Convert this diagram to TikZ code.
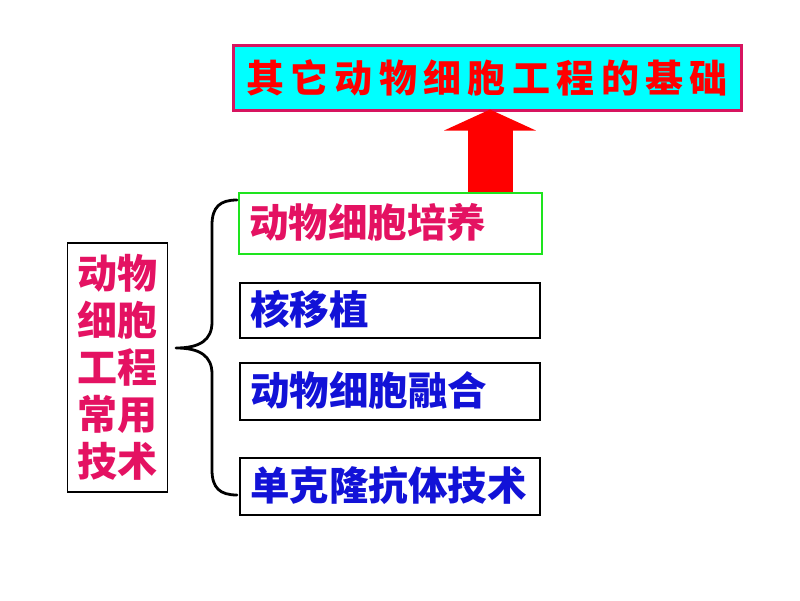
\documentclass[tikz,border=0pt]{standalone}
\usepackage{fontspec}
\usetikzlibrary{arrows.meta}
\newfontfamily\cjk{Noto Sans CJK SC}
\definecolor{pinkT}{RGB}{228,18,98}
\definecolor{blueT}{RGB}{18,18,215}
\definecolor{topborder}{RGB}{215,20,95}
\definecolor{cyanF}{RGB}{0,255,255}
\definecolor{greenB}{RGB}{30,228,30}
\definecolor{redA}{RGB}{255,0,0}
\tikzset{
  itembox/.style={draw=black, line width=1.4pt, minimum width=300pt, text width=280pt,
    inner xsep=10pt, inner ysep=0pt, align=left, font=\cjk\bfseries\fontsize{39.5}{41}\selectfont,
    text=blueT, text height=32pt, text depth=5pt},
  greenbox/.style={itembox, draw=greenB, line width=2.8pt, text=pinkT},
  topbox/.style={draw=topborder, line width=3pt, fill=cyanF, minimum width=508pt, minimum height=65pt,
    font=\cjk\bfseries\fontsize{38}{40}\selectfont, text=redA, inner sep=0pt},
  leftbox/.style={draw=black, line width=1.4pt, minimum width=100pt, minimum height=249pt,
    align=center, text=pinkT, font=\cjk\bfseries\fontsize{40}{47}\selectfont, inner sep=0pt},
  bigarrow/.style={draw=redA, line width=45pt, -{Triangle[width=91pt,length=21pt]}},
  bracestyle/.style={draw=black, line width=2.8pt, line cap=round, line join=round}
}
\begin{document}
\begin{tikzpicture}[x=1pt,y=-1pt]
\useasboundingbox (0,0) rectangle (800,600);
\fill[white] (0,0) rectangle (800,600);
\node[topbox] (top) at (487,77.5) {其\hspace{6.4pt}它\hspace{6.4pt}动\hspace{6.4pt}物\hspace{6.4pt}细\hspace{6.4pt}胞\hspace{6.4pt}工\hspace{6.4pt}程\hspace{6.4pt}的\hspace{6.4pt}基\hspace{6.4pt}础};
\node[leftbox] (left) at (117.5,367.5) {动物\\细胞\\工程\\常用\\技术};
\node[greenbox, minimum width=303pt, text width=283pt, minimum height=61pt] (b1) at (390.5,223.5) {动物细胞培养};
\node[itembox, minimum height=55pt] (b2) at (390,310.5) {核移植};
\node[itembox, minimum height=57pt] (b3) at (390,391.5) {动物细胞融合};
\node[itembox, minimum height=57pt] (b4) at (390,486.5) {单克隆抗体技术};
\coordinate (ax) at (490,0);
\draw[bigarrow] (b1.north -| ax) -- ([yshift=2pt]top.south -| ax);
\coordinate (bt) at (237,200);
\coordinate (bm) at (176,348);
\coordinate (bb) at (237,495);
\draw[bracestyle] (bt) .. controls (220,200) and (212,207) .. (212,225) -- (212,322)
  .. controls (212,340) and (200,348) .. (bm)
  .. controls (200,348) and (212,356) .. (212,374) -- (212,470)
  .. controls (212,488) and (220,495) .. (bb);
\end{tikzpicture}
\end{document}
